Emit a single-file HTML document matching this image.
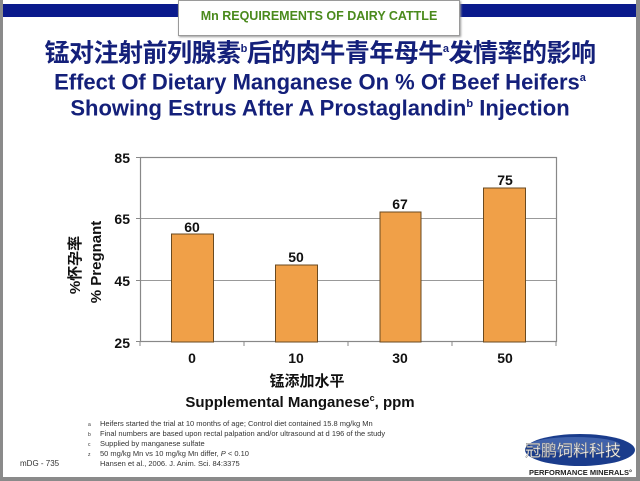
<!DOCTYPE html>
<html><head><meta charset="utf-8"><style>
body{margin:0;width:640px;height:481px;overflow:hidden;background:#fff;font-family:"Liberation Sans","Noto Sans CJK SC",sans-serif;}
.a{position:absolute;}
</style></head><body>
<div class="a" style="left:0;top:0;width:640px;height:481px;background:#8a8a8a;"></div>
<div class="a" style="left:3px;top:0;width:633px;height:477px;background:#fff;"></div>
<div class="a" style="left:3px;top:4px;width:633px;height:13px;background:#0a1a8c;"></div>
<div class="a" style="left:178px;top:0;width:280px;height:34px;background:#fff;border:1px solid #9a9a9a;box-shadow:1px 1px 2px #999;"></div>
<div class="a" style="left:178px;top:9px;width:282px;text-align:center;font-size:12.5px;font-weight:bold;color:#4a8a1c;">Mn REQUIREMENTS OF DAIRY CATTLE</div>
<div class="a" style="left:0;top:34px;width:640px;text-align:center;font-size:25px;font-weight:bold;color:#14207a;line-height:30px;letter-spacing:-0.5px;">锰对注射前列腺素<sup style="font-size:11px">b</sup>后的肉牛青年母牛<sup style="font-size:11px">a</sup>发情率的影响</div>
<div class="a" style="left:0;top:65px;width:640px;text-align:center;font-size:22px;font-weight:bold;color:#14207a;line-height:26px;">Effect Of Dietary Manganese On % Of Beef Heifers<sup style="font-size:11px">a</sup></div>
<div class="a" style="left:0;top:91px;width:640px;text-align:center;font-size:22px;font-weight:bold;color:#14207a;line-height:26px;">Showing Estrus After A Prostaglandin<sup style="font-size:11px">b</sup> Injection</div>
<svg class="a" style="left:0;top:0" width="640" height="481">
<g stroke="#999" stroke-width="1">
<line x1="140" y1="218.5" x2="557" y2="218.5"/><line x1="140" y1="280.5" x2="557" y2="280.5"/>
</g>
<rect x="140.5" y="157.5" width="416" height="184" fill="none" stroke="#888" stroke-width="1.2"/>
<g stroke="#888"><line x1="136" y1="157.5" x2="140" y2="157.5"/><line x1="136" y1="218.5" x2="140" y2="218.5"/><line x1="136" y1="280.5" x2="140" y2="280.5"/><line x1="136" y1="341.5" x2="140" y2="341.5"/>
<line x1="244" y1="342" x2="244" y2="346"/><line x1="348" y1="342" x2="348" y2="346"/><line x1="452" y1="342" x2="452" y2="346"/><line x1="556" y1="342" x2="556" y2="346"/><line x1="140" y1="342" x2="140" y2="346"/></g>
<g fill="#f0a048" stroke="#6a4a20" stroke-width="1">
<rect x="171.5" y="234" width="42" height="108"/><rect x="275.5" y="265" width="42" height="77"/><rect x="380" y="212" width="41" height="130"/><rect x="483.5" y="188" width="42" height="154"/></g>
<g font-size="14" font-weight="bold" fill="#111" text-anchor="middle">
<text x="192" y="232">60</text><text x="296" y="262">50</text><text x="400" y="209">67</text><text x="505" y="185">75</text>
<text x="192" y="363">0</text><text x="296" y="363">10</text><text x="400" y="363">30</text><text x="505" y="363">50</text>
<g text-anchor="end"><text x="130" y="163">85</text><text x="130" y="224">65</text><text x="130" y="286">45</text><text x="130" y="348">25</text></g>
<text x="307" y="386" font-size="15">锰添加水平</text>
<text x="300" y="407" font-size="15">Supplemental Manganese<tspan font-size="9" dy="-6">c</tspan><tspan dy="6">, ppm</tspan></text>
<text transform="translate(80,265) rotate(-90)" font-size="15">%怀孕率</text>
<text transform="translate(101,262) rotate(-90)" font-size="15">% Pregnant</text>
</g>
<g font-size="7.5" fill="#333">
<text x="88" y="426" font-size="5">a</text><text x="100" y="426">Heifers started the trial at 10 months of age; Control diet contained 15.8 mg/kg Mn</text>
<text x="88" y="436" font-size="5">b</text><text x="100" y="436">Final numbers are based upon rectal palpation and/or ultrasound at d 196 of the study</text>
<text x="88" y="446" font-size="5">c</text><text x="100" y="446">Supplied by manganese sulfate</text>
<text x="88" y="456" font-size="5">z</text><text x="100" y="456">50 mg/kg Mn vs 10 mg/kg Mn differ, <tspan font-style="italic">P</tspan> &lt; 0.10</text>
<text x="100" y="466">Hansen et al., 2006. J. Anim. Sci. 84:3375</text>
<text x="20" y="466" font-size="8">mDG - 735</text>
</g>
<ellipse cx="580" cy="450" rx="55" ry="16" fill="#1a3c8c"/>
<ellipse cx="575" cy="445" rx="45" ry="8" fill="#5a7cc0" opacity="0.6"/>
<text x="525" y="456" font-size="16" fill="#fff" stroke="#777" stroke-width="0.4">冠鹏饲料科技</text>
<text x="632" y="475" font-size="7.5" font-weight="bold" fill="#222" text-anchor="end">PERFORMANCE MINERALS°</text>
</svg>
</body></html>
